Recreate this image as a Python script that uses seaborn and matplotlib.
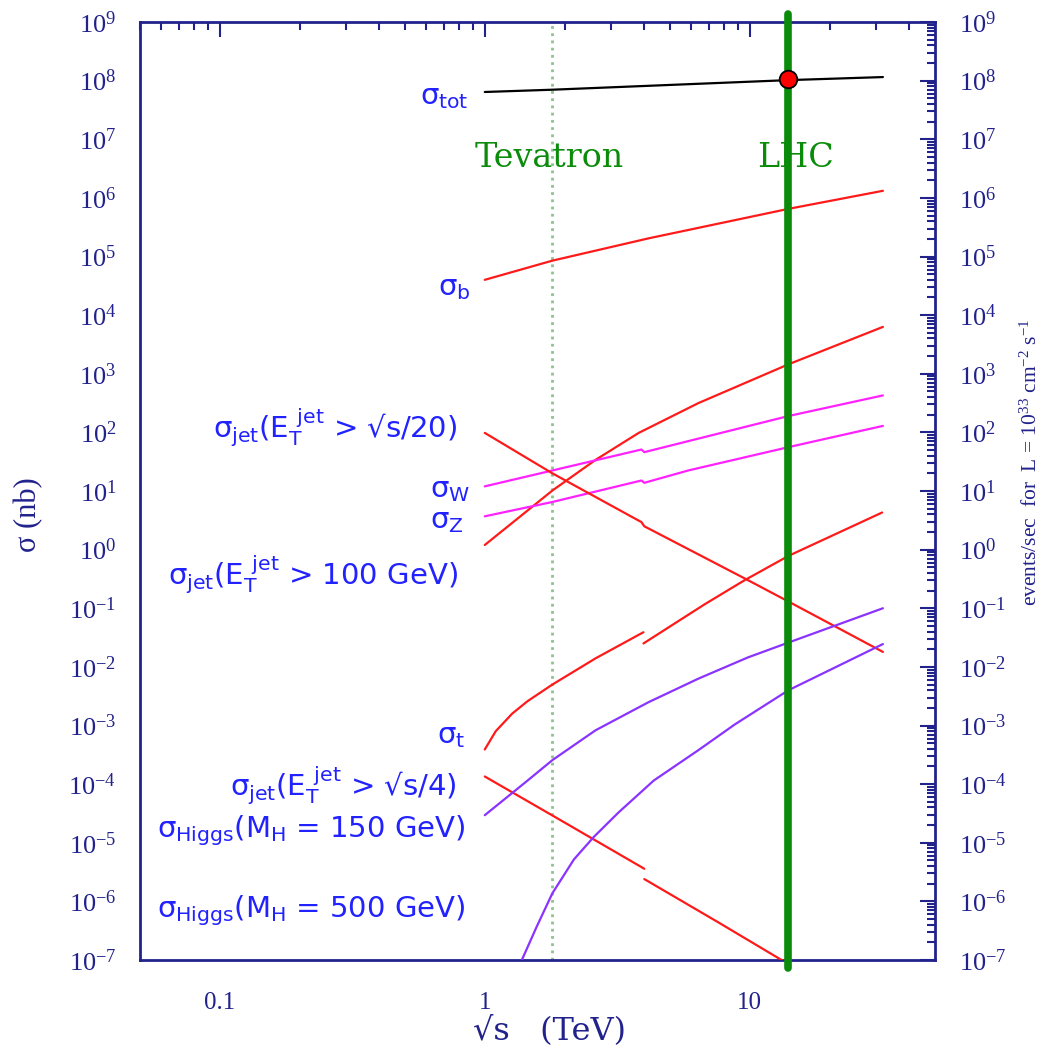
import numpy as np
import pandas as pd
import matplotlib
matplotlib.use("Agg")
import matplotlib.pyplot as plt
import seaborn as sns
from matplotlib.ticker import LogLocator, FuncFormatter, NullFormatter, FixedLocator

# ---------------- data (sqrt(s) in TeV, sigma in nb) ----------------
tot_x = [1.0, 1.8, 14.0, 31.8]
tot_y = [6.4e7, 7.0e7, 1.02e8, 1.15e8]

b_x = [1.0, 1.8, 3.8, 4.15, 14.0, 31.8]
b_y = [4.0e4, 8.5e4, 1.86e5, 2.04e5, 6.5e5, 1.32e6]

jet100_x = [1.0, 1.8, 2.62, 3.81, 6.4, 14.0, 31.8]
jet100_y = [1.2, 10.2, 34.0, 98.0, 316.0, 1.45e3, 6.3e3]

W_x = [1.0, 1.8, 3.9, 4.0, 14.0, 31.8]
W_y = [12.0, 22.4, 51.0, 46.0, 190.0, 427.0]

Z_x = [1.0, 1.8, 3.9, 4.0, 5.86, 14.0, 31.8]
Z_y = [3.7, 6.5, 15.1, 13.8, 22.4, 56.0, 129.0]

jet20_x = [1.0, 1.8, 3.9, 4.0, 9.6, 14.0, 31.8]
jet20_y = [98.0, 20.0, 2.95, 2.5, 0.32, 0.13, 0.018]

top1_x = [1.0, 1.1, 1.27, 1.45, 1.8, 2.62, 3.97]
top1_y = [3.9e-4, 8.0e-4, 1.6e-3, 2.6e-3, 5.0e-3, 0.014, 0.039]
top2_x = [3.97, 6.76, 9.55, 14.06, 31.6]
top2_y = [0.0251, 0.117, 0.30, 0.79, 4.3]

jet4a_x = [1.0, 1.91, 4.0]
jet4a_y = [1.35e-4, 2.5e-5, 3.6e-6]
jet4b_x = [4.0, 7.6, 14.0]
jet4b_y = [2.4e-6, 4.4e-7, 8.5e-8]

h150_x = [1.0, 1.45, 1.8, 2.62, 4.15, 6.4, 9.84, 14.0, 31.8]
h150_y = [2.95e-5, 1.15e-4, 2.57e-4, 8.3e-4, 2.5e-3, 6.3e-3, 0.0145, 0.026, 0.10]

h500_x = [1.38, 1.57, 1.8, 2.17, 2.58, 3.2, 4.34, 6.4, 8.8, 14.0, 31.8]
h500_y = [1.0e-7, 3.7e-7, 1.38e-6, 5.2e-6, 1.26e-5, 3.3e-5, 1.15e-4, 3.8e-4,
          1.05e-3, 4.0e-3, 0.0245]

lhc_point_x = [14.0]
lhc_point_y = [1.07e8]

tevatron_energy = 1.8
lhc_energy = 14.0

xticks = [0.1, 1, 10]
xticklabels = ["0.1", "1", "10"]
yexp = list(range(-7, 10))

# ---------------- style ----------------
sns.set_style("white")
navy = "#22228c"
blue = "#2222ff"
red = "#ff1a1a"
magenta = "#ff22ff"
purple = "#8a33ff"
green = "#0a8c0a"
lightgreen = "#8cc48c"

plt.rcParams["font.family"] = ["Liberation Serif", "DejaVu Serif"]
plt.rcParams["mathtext.fontset"] = "custom"
plt.rcParams["mathtext.rm"] = "DejaVu Sans"
plt.rcParams["mathtext.it"] = "DejaVu Sans"
plt.rcParams["mathtext.bf"] = "DejaVu Sans:bold"
plt.rcParams["mathtext.sf"] = "DejaVu Sans"

fig = plt.figure(figsize=(10.45, 10.53), dpi=100)
ax = fig.add_axes([140 / 1045, 93 / 1053, 795 / 1045, 938 / 1053])

lw = 1.6
series = [
    (tot_x, tot_y, "black"),
    (b_x, b_y, red),
    (jet100_x, jet100_y, red),
    (W_x, W_y, magenta),
    (Z_x, Z_y, magenta),
    (jet20_x, jet20_y, red),
    (top1_x, top1_y, red),
    (top2_x, top2_y, red),
    (jet4a_x, jet4a_y, red),
    (jet4b_x, jet4b_y, red),
    (h150_x, h150_y, purple),
    (h500_x, h500_y, purple),
]
for xs, ys, c in series:
    df = pd.DataFrame({"x": xs, "y": ys})
    sns.lineplot(data=df, x="x", y="y", ax=ax, color=c, lw=lw,
                 estimator=None, sort=False, zorder=3)

ax.set_xscale("log")
ax.set_yscale("log")
ax.set_xlim(0.05, 50)
ax.set_ylim(1e-7, 1e9)

# Tevatron / LHC lines
ax.axvline(tevatron_energy, color=lightgreen, lw=2.0, ls=(0, (1, 1.6)), zorder=2)
ax.axvline(lhc_energy, ymin=-0.009, ymax=1.009, color=green, lw=5.5,
           zorder=5, clip_on=False)
sns.scatterplot(x=lhc_point_x, y=lhc_point_y, ax=ax, color="red",
                edgecolor="black", linewidth=1.3, s=160, zorder=6)

ax.text(1.75, 4.8e6, "Tevatron", color=green, fontsize=24, ha="center",
        va="center", family=["DejaVu Serif"])
ax.text(14.9, 4.8e6, "LHC", color=green, fontsize=24, ha="center",
        va="center", family=["DejaVu Serif"])

# curve labels (blue, sans)
def px(xp, yp):
    return ((xp - 140) / 795, (960 - yp) / 938)

labels = [
    (r"$\sigma_{tot}$", 468, 97),
    (r"$\sigma_{b}$", 470, 288),
    (r"$\sigma_{jet}(E_T^{\ jet}$ > √s/20)", 457, 428),
    (r"$\sigma_{W}$", 470, 490),
    (r"$\sigma_{Z}$", 463, 521),
    (r"$\sigma_{jet}(E_T^{\ jet}$ > 100 GeV)", 458, 575),
    (r"$\sigma_{t}$", 465, 736),
    (r"$\sigma_{jet}(E_T^{\ jet}$ > √s/4)", 457, 786),
    (r"$\sigma_{Higgs}(M_H$ = 150 GeV)", 465, 831),
    (r"$\sigma_{Higgs}(M_H$ = 500 GeV)", 465, 911),
]
for txt, xp, yp in labels:
    fx, fy = px(xp, yp)
    ax.text(fx, fy, txt, transform=ax.transAxes, ha="right", va="center",
            color=blue, fontsize=21, family=["DejaVu Sans"])

# axes styling
for s in ax.spines.values():
    s.set_color(navy)
    s.set_linewidth(2.0)
    s.set_visible(True)

ax.xaxis.set_major_locator(FixedLocator(xticks))
ax.xaxis.set_major_formatter(FuncFormatter(lambda v, p: xticklabels[xticks.index(v)] if v in xticks else ""))
ax.xaxis.set_minor_locator(LogLocator(base=10, subs=np.arange(2, 10), numticks=100))
ax.xaxis.set_minor_formatter(NullFormatter())
ax.yaxis.set_major_locator(FixedLocator([10.0 ** e for e in yexp]))
ax.yaxis.set_major_formatter(FuncFormatter(
    lambda v, p: r"$\mathdefault{10^{%d}}$" % int(round(np.log10(v)))))
ax.yaxis.set_minor_locator(LogLocator(base=10, subs=np.arange(2, 10), numticks=100))
ax.yaxis.set_minor_formatter(NullFormatter())

ax.tick_params(which="both", direction="in", top=True, right=True,
               labelright=True, color=navy, labelcolor=navy, width=1.5)
ax.tick_params(which="major", length=11)
ax.tick_params(which="minor", length=6)
ax.tick_params(axis="y", which="major", pad=17, labelsize=19)
ax.tick_params(axis="x", which="major", pad=23, labelsize=18)
for lab in ax.get_xticklabels() + ax.get_yticklabels():
    lab.set_family(["Liberation Serif"])

ax.set_xlabel("√s   (TeV)", fontsize=23, color=navy, family=["DejaVu Serif"])
ax.set_ylabel("σ (nb)", fontsize=22, color=navy)
ax.xaxis.set_label_coords(0.515, -0.059)
ax.yaxis.set_label_coords(-0.122, 0.475)

fig.text(1031 / 1045, 1 - 462 / 1053,
         r"events/sec  for  L = $\mathdefault{10^{33}}$ cm$\mathdefault{^{-2}}$ s$\mathdefault{^{-1}}$",
         rotation=90, ha="center", va="center", color=navy, fontsize=15.5)

ax.grid(False)
fig.savefig("out.png", dpi=100, facecolor="white")
